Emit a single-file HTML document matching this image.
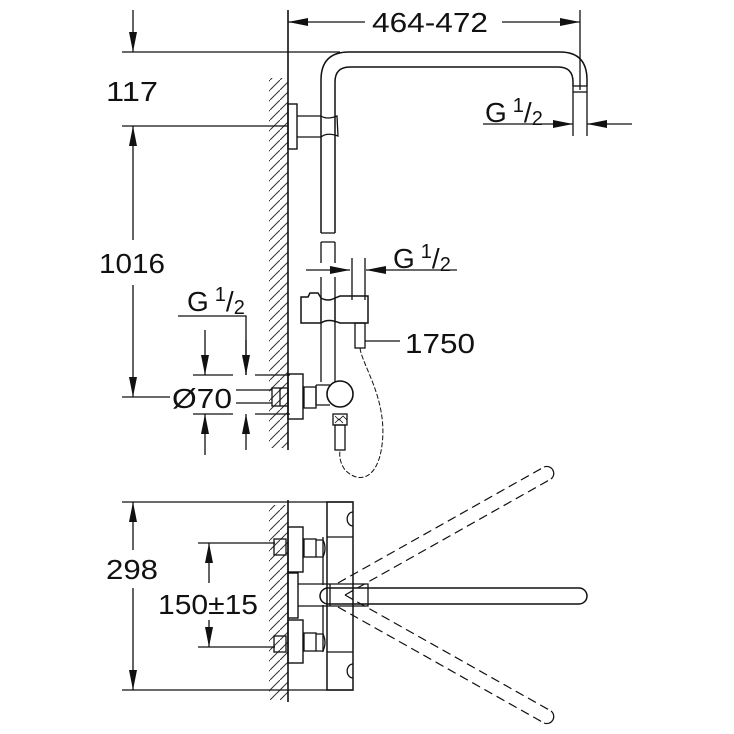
<!DOCTYPE html>
<html><head><meta charset="utf-8"><style>
html,body{margin:0;padding:0;background:#fff;}
svg{display:block;}
text{font-family:"Liberation Sans",sans-serif;fill:#111;}
</style></head><body>
<svg width="734" height="734" viewBox="0 0 734 734" xmlns="http://www.w3.org/2000/svg">
<defs>
<pattern id="h" width="10" height="10" patternUnits="userSpaceOnUse">
<path d="M-1,11 L11,-1" stroke="#333" stroke-width="1"/>
</pattern>
<marker id="b" viewBox="0 0 20 8" refX="20" refY="4" markerWidth="20" markerHeight="8" markerUnits="userSpaceOnUse" orient="auto-start-reverse">
<path d="M0,0 L20,4 L0,8z" fill="#111"/>
</marker>
</defs>
<g fill="none" stroke="#111" stroke-width="1.3">
<rect x="269" y="78" width="19" height="370" fill="url(#h)" stroke="none"/>
<rect x="269" y="505" width="19" height="195" fill="url(#h)" stroke="none"/>
<line x1="288" y1="10" x2="288" y2="450" stroke-width="1.6"/>
<line x1="288" y1="500" x2="288" y2="702" stroke-width="1.6"/>

<line x1="580" y1="10" x2="580" y2="90"/>
<line x1="288" y1="22" x2="365" y2="22" marker-start="url(#b)"/>
<line x1="502" y1="22" x2="580" y2="22" marker-end="url(#b)"/>
<line x1="122" y1="52" x2="340" y2="52"/>
<line x1="133" y1="10" x2="133" y2="52" marker-end="url(#b)"/>
<line x1="122" y1="126" x2="288" y2="126"/>
<line x1="133" y1="126" x2="133" y2="240" marker-start="url(#b)"/>
<line x1="133" y1="285" x2="133" y2="397" marker-end="url(#b)"/>
<line x1="122" y1="397" x2="170" y2="397"/>

<path d="M321,233 L321,80 Q321,52 349,52 L560,52 Q587,52 587,80 L587,86" stroke-width="1.5"/>
<path d="M335,233 L335,82 Q335,67 350,67 L558,67 Q573,67 573,82 L573,86" stroke-width="1.5"/>
<line x1="321" y1="233" x2="335" y2="233"/>
<rect x="573" y="86" width="14" height="6"/>
<line x1="573" y1="92" x2="573" y2="136"/>
<line x1="587" y1="92" x2="587" y2="136"/>
<line x1="483" y1="124" x2="573" y2="124" marker-end="url(#b)"/>
<line x1="632" y1="124" x2="587" y2="124" marker-end="url(#b)"/>
<rect x="288" y="104" width="9" height="45" stroke-width="1.4"/>
<path d="M297,116 L321,116 M297,137 L321,137"/>
<path d="M321,116 Q327,120 337,116 L338,136 Q327,132 321,137"/>

<path d="M321,242 L335,242 M321,242 L321,263 M335,242 L335,263"/>
<path d="M321,277 L321,382 M335,277 L335,382"/>
<line x1="352" y1="258" x2="352" y2="300"/>
<line x1="365" y1="258" x2="365" y2="300"/>
<line x1="306" y1="270" x2="350" y2="270" marker-end="url(#b)"/>
<line x1="457" y1="270" x2="366" y2="270" marker-end="url(#b)"/>
<path d="M301,297 L308,297 L310,293 L318,293 L321,298 Q328,302 335,298 L340,296 L368,296 L368,323 L340,323 Q328,318 321,323 L301,323 Z" stroke-width="1.5"/>
<line x1="321" y1="298" x2="321" y2="323"/>
<line x1="335" y1="298" x2="335" y2="323"/>
<rect x="355" y="323" width="10" height="25"/>
<line x1="365" y1="341" x2="400" y2="341"/>
<path d="M360,348 C362,365 388,400 382,445 C378,478 360,485 345,470 C338,460 340,452 340,450" stroke-dasharray="5,2" stroke-width="1"/>
<rect x="288" y="374" width="15" height="45" stroke-width="1.4"/>
<rect x="272" y="388" width="16" height="18"/>
<line x1="280" y1="388" x2="280" y2="406"/>
<rect x="304" y="387" width="12" height="21"/>
<path d="M316,385 L330,385 M316,405 L330,405 M316,385 L316,405"/>
<circle cx="340" cy="394" r="13" stroke-width="1.6"/>
<rect x="333" y="414" width="14" height="11"/>
<path d="M335,416 l4,4 l4,-4 l4,4 M335,423 l4,-4 l4,4" stroke-width="0.8"/>
<rect x="335" y="425" width="10" height="25"/>
<path d="M178,316 L246,316 L246,375"/>
<line x1="246" y1="340" x2="246" y2="375" marker-end="url(#b)"/>
<line x1="246" y1="450" x2="246" y2="414" marker-end="url(#b)"/>
<line x1="205" y1="330" x2="205" y2="375" marker-end="url(#b)"/>
<line x1="205" y1="455" x2="205" y2="414" marker-end="url(#b)"/>
<line x1="193" y1="375" x2="233" y2="375"/>
<line x1="193" y1="414" x2="233" y2="414"/>
<line x1="255" y1="375" x2="290" y2="375"/>
<line x1="255" y1="414" x2="290" y2="414"/>
<line x1="236" y1="390" x2="272" y2="390"/>
<line x1="236" y1="403" x2="272" y2="403"/>

<line x1="122" y1="502" x2="353" y2="502"/>
<line x1="122" y1="690" x2="353" y2="690"/>
<line x1="133" y1="502" x2="133" y2="550" marker-start="url(#b)"/>
<line x1="133" y1="588" x2="133" y2="690" marker-end="url(#b)"/>
<line x1="198" y1="543" x2="275" y2="543"/>
<line x1="198" y1="647" x2="275" y2="647"/>
<line x1="209" y1="543" x2="209" y2="583" marker-start="url(#b)"/>
<line x1="209" y1="620" x2="209" y2="647" marker-end="url(#b)"/>
<rect x="327" y="502" width="26" height="188" stroke-width="1.5"/>
<path d="M327,537 L353,537 M327,652 L353,652 M323,537 L323,585 M323,605 L323,652"/>
<path d="M353,512 a5,6 0 0 0 0,14 M353,664 a5,6 0 0 0 0,14"/>
<rect x="288" y="527" width="15" height="45" stroke-width="1.4"/>
<rect x="288" y="620" width="15" height="43" stroke-width="1.4"/>
<rect x="304" y="539" width="12" height="18"/>
<rect x="304" y="633" width="12" height="18"/>
<path d="M316,540 L323,540 Q327,548 323,557 L316,557 M316,634 L323,634 Q327,642 323,651 L316,651"/>
<rect x="274" y="539" width="12" height="16"/>
<rect x="274" y="636" width="12" height="16"/>
<rect x="288" y="573" width="10" height="45" stroke-width="1.4"/>
<path d="M298,584 L368,584 L368,606 L298,606"/>
<line x1="330" y1="584" x2="330" y2="606"/>
<rect x="320" y="588" width="267" height="16" rx="8" stroke-width="1.5"/>
<g stroke-dasharray="9,5" stroke-width="1.2">
<path d="M338,583 L544,467 M345,595 L551,479"/>
<path d="M544,467 A7,7 0 0 1 551,479" stroke-dasharray="none"/>
<path d="M338,607 L544,723 M345,595 L551,711"/>
<path d="M551,711 A7,7 0 0 1 544,723" stroke-dasharray="none"/>
</g>
</g>
<g font-size="28">
<text x="372" y="32" textLength="116" lengthAdjust="spacingAndGlyphs">464-472</text>
<text x="106" y="101" textLength="52" lengthAdjust="spacingAndGlyphs">117</text>
<text x="99" y="273" textLength="66" lengthAdjust="spacingAndGlyphs">1016</text>
<text x="405" y="353" textLength="70" lengthAdjust="spacingAndGlyphs">1750</text>
<text x="172" y="408" textLength="60" lengthAdjust="spacingAndGlyphs">Ø70</text>
<text x="106" y="579" textLength="52" lengthAdjust="spacingAndGlyphs">298</text>
<text x="158" y="614" textLength="100" lengthAdjust="spacingAndGlyphs">150±15</text>
</g>
<g font-size="28">
<text x="485" y="122">G<tspan font-size="20" dx="6" dy="-10">1</tspan><tspan dy="10">/</tspan><tspan font-size="20" dy="3">2</tspan></text>
<text x="393" y="268">G<tspan font-size="20" dx="6" dy="-10">1</tspan><tspan dy="10">/</tspan><tspan font-size="20" dy="3">2</tspan></text>
<text x="187" y="311">G<tspan font-size="20" dx="6" dy="-10">1</tspan><tspan dy="10">/</tspan><tspan font-size="20" dy="3">2</tspan></text>
</g>
</svg>
</body></html>
